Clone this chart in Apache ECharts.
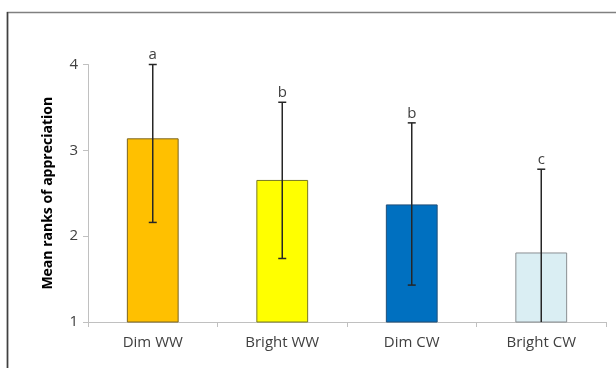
<!DOCTYPE html>
<html><head><meta charset="utf-8">
<script src="https://cdn.jsdelivr.net/npm/echarts@6/dist/echarts.min.js"></script>
<style>html,body{margin:0;padding:0;background:#fff}#c{width:616px;height:368px}</style>
</head><body><div id="c"></div>
<script>
const categories = ['Dim WW', 'Bright WW', 'Dim CW', 'Bright CW'];
const means = [3.14, 2.655, 2.37, 1.81];
const errUpper = [4.0, 3.56, 3.32, 2.78];
const errLower = [2.16, 1.74, 1.43, 1.0];
const letters = ['a', 'b', 'b', 'c'];
const barColors = ['#FFC000', '#FFFF00', '#0070C0', '#DAEEF3'];
const barBorders = ['#7a6420', '#7a7a20', '#1f4e79', '#8a8f92'];
const yTicks = [1, 2, 3, 4];

const chart = echarts.init(document.getElementById('c'));
const font = '"Open Sans", "Liberation Sans", Arial, sans-serif';
chart.setOption({
  animation: false,
  graphic: [{
    type: 'polyline', silent: true,
    shape: { points: [[7.5, 368], [7.5, 12.5], [616, 12.5]] },
    style: { stroke: '#808080', lineWidth: 1.5, fill: null }
  }, {
    type: 'line', silent: true,
    shape: { x1: 7.5, y1: 12, x2: 7.5, y2: 368 },
    style: { stroke: '#404040', lineWidth: 1.5 }
  }],
  grid: { left: 88, right: 10, top: 64.5, bottom: 46 },
  xAxis: {
    type: 'category', data: categories, boundaryGap: true,
    axisLine: { lineStyle: { color: '#c0c0c0', width: 1 } },
    axisTick: { show: true, length: 5, lineStyle: { color: '#c0c0c0' } },
    axisLabel: { color: '#404040', fontSize: 15, fontFamily: font, margin: 13 }
  },
  yAxis: {
    type: 'value', min: yTicks[0], max: yTicks[yTicks.length - 1], interval: 1,
    name: 'Mean ranks of appreciation', nameLocation: 'middle', nameGap: 33,
    nameTextStyle: { fontWeight: 'bold', fontSize: 14, color: '#000', fontFamily: font },
    axisLine: { show: true, lineStyle: { color: '#c0c0c0', width: 1 } },
    axisTick: { show: true, length: 5, lineStyle: { color: '#c0c0c0' } },
    splitLine: { show: false },
    axisLabel: { color: '#404040', fontSize: 15, fontFamily: font, margin: 10 }
  },
  series: [{
    type: 'bar', barWidth: '40%',
    data: means.map((v, i) => ({ value: v, itemStyle: { color: barColors[i], borderColor: barBorders[i], borderWidth: 1 } }))
  }, {
    type: 'custom', z: 10,
    data: categories.map((c, i) => [i, errLower[i], errUpper[i], i === 3 ? 0 : 1]),
    renderItem: function (params, api) {
      const x = api.coord([api.value(0), 0])[0];
      const lo = api.coord([api.value(0), api.value(1)])[1];
      const hi = api.coord([api.value(0), api.value(2)])[1];
      const hasLowCap = api.value(3) === 1;
      const st = { stroke: '#262626', lineWidth: 1.5 };
      const ch = [
        { type: 'line', shape: { x1: x, y1: lo, x2: x, y2: hi }, style: st },
        { type: 'line', shape: { x1: x - 4, y1: hi, x2: x + 4, y2: hi }, style: st }
      ];
      if (hasLowCap) ch.push({ type: 'line', shape: { x1: x - 4, y1: lo, x2: x + 4, y2: lo }, style: st });
      ch.push({ type: 'text', style: { text: letters[params.dataIndex], x: x, y: hi - 2, align: 'center', verticalAlign: 'bottom', fill: '#404040', font: '15px ' + font } });
      return { type: 'group', children: ch };
    }
  }]
});
</script></body></html>
